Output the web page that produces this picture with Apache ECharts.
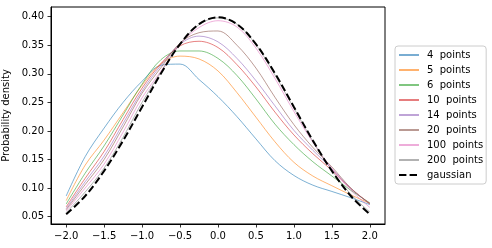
<!DOCTYPE html>
<html><head><meta charset="utf-8">
<script src="https://cdn.jsdelivr.net/npm/echarts@6/dist/echarts.min.js"></script>
<style>html,body{margin:0;padding:0;background:#fff}#c{width:492px;height:248px}</style>
</head><body><div id="c"></div>
<script>
const xs = [-2, -1.75, -1.5, -1.25, -1, -0.75, -0.5, -0.25, 0, 0.25, 0.5, 0.75, 1, 1.25, 1.5, 1.75, 2];
const seriesNames = ['4  points', '5  points', '6  points', '10  points', '14  points', '20  points', '100  points', '200  points', 'gaussian'];
const p4   = [0.086, 0.155, 0.205, 0.250, 0.287, 0.315, 0.317, 0.290, 0.260, 0.225, 0.186, 0.148, 0.122, 0.105, 0.094, 0.083, 0.071];
const p5   = [0.078, 0.140, 0.184, 0.232, 0.280, 0.318, 0.331, 0.326, 0.305, 0.267, 0.224, 0.181, 0.145, 0.121, 0.104, 0.088, 0.073];
const p6   = [0.072, 0.126, 0.174, 0.228, 0.282, 0.325, 0.340, 0.340, 0.327, 0.297, 0.256, 0.212, 0.176, 0.146, 0.121, 0.096, 0.074];
const p10  = [0.067, 0.117, 0.164, 0.220, 0.275, 0.318, 0.349, 0.357, 0.346, 0.316, 0.277, 0.233, 0.193, 0.160, 0.131, 0.099, 0.073];
const p14  = [0.064, 0.111, 0.156, 0.213, 0.270, 0.315, 0.352, 0.366, 0.356, 0.327, 0.288, 0.244, 0.201, 0.166, 0.134, 0.099, 0.072];
const p20  = [0.062, 0.106, 0.150, 0.207, 0.266, 0.311, 0.354, 0.372, 0.375, 0.350, 0.310, 0.259, 0.211, 0.171, 0.137, 0.100, 0.072];
const p100 = [0.060, 0.100, 0.142, 0.198, 0.258, 0.305, 0.352, 0.381, 0.393, 0.382, 0.345, 0.292, 0.234, 0.180, 0.134, 0.096, 0.066];
const p200 = [0.057, 0.093, 0.135, 0.189, 0.250, 0.303, 0.352, 0.386, 0.398, 0.387, 0.351, 0.298, 0.240, 0.182, 0.131, 0.089, 0.058];
const gauss = [0.054, 0.086, 0.130, 0.183, 0.242, 0.301, 0.352, 0.387, 0.399, 0.387, 0.352, 0.301, 0.242, 0.183, 0.130, 0.086, 0.054];
const xTicks = [-2, -1.5, -1, -0.5, 0, 0.5, 1, 1.5, 2];
const yTicks = [0.05, 0.10, 0.15, 0.20, 0.25, 0.30, 0.35, 0.40];

const values = [p4, p5, p6, p10, p14, p20, p100, p200, gauss];
const colors = ['#1f77b4', '#ff7f0e', '#2ca02c', '#d62728', '#9467bd', '#8c564b', '#e377c2', '#7f7f7f', '#000000'];
const FONT = 'DejaVu Sans';

const series = values.map((arr, i) => {
  const isG = i === values.length - 1;
  return {
    name: seriesNames[i],
    type: 'line',
    color: colors[i],
    data: xs.map((x, j) => [x, arr[j]]),
    smooth: 0.35,
    symbol: 'none',
    z: isG ? 10 : 2,
    lineStyle: isG
      ? { color: '#000', width: 2, type: [7.4, 3.2] }
      : { color: colors[i], width: 0.9, opacity: 0.65 },
    itemStyle: { color: colors[i] }
  };
});

const legendData = seriesNames.map((n, i) => (i === seriesNames.length - 1)
  ? { name: n }
  : { name: n, lineStyle: { opacity: 0.6 } });

const chart = echarts.init(document.getElementById('c'), null, { renderer: 'canvas' });
chart.setOption({
  animation: false,
  backgroundColor: '#fff',
  grid: { left: 51, right: 107, top: 7, bottom: 24, show: true, borderColor: '#000', borderWidth: 1,
          containLabel: false, outerBoundsMode: 'none' },
  xAxis: {
    type: 'value', min: -2.2, max: 2.2,
    axisLine: { show: true, onZero: false, lineStyle: { color: '#000', width: 1 } },
    splitLine: { show: false },
    axisTick: { show: true, customValues: xTicks, length: 3.5, lineStyle: { color: '#000', width: 0.8 } },
    axisLabel: { customValues: xTicks, margin: 7, color: '#000', fontSize: 10, fontFamily: FONT,
      formatter: v => v.toFixed(1).replace('-', '\u2212') }
  },
  yAxis: {
    type: 'value', min: 0.037, max: 0.417,
    name: 'Probability density', nameLocation: 'middle', nameGap: 40, nameMoveOverlap: false,
    nameTextStyle: { color: '#000', fontSize: 10, fontFamily: FONT },
    axisLine: { show: true, onZero: false, lineStyle: { color: '#000', width: 1 } },
    splitLine: { show: false },
    axisTick: { show: true, customValues: yTicks, length: 3.5, lineStyle: { color: '#000', width: 0.8 } },
    axisLabel: { customValues: yTicks, margin: 7, color: '#000', fontSize: 10, fontFamily: FONT,
      formatter: v => v.toFixed(2) }
  },
  legend: {
    orient: 'vertical', left: 395, top: 46,
    data: legendData,
    itemWidth: 20, itemHeight: 12, itemGap: 3,
    padding: [3, 3, 3, 3],
    borderColor: '#cccccc', borderWidth: 1, borderRadius: 3,
    backgroundColor: 'rgba(255,255,255,0.8)',
    itemStyle: { opacity: 0 },
    textStyle: { color: '#000', fontSize: 10, fontFamily: FONT, lineHeight: 12, padding: [0, 0, 0, 3] }
  },
  series: series
});
</script>
</body></html>
